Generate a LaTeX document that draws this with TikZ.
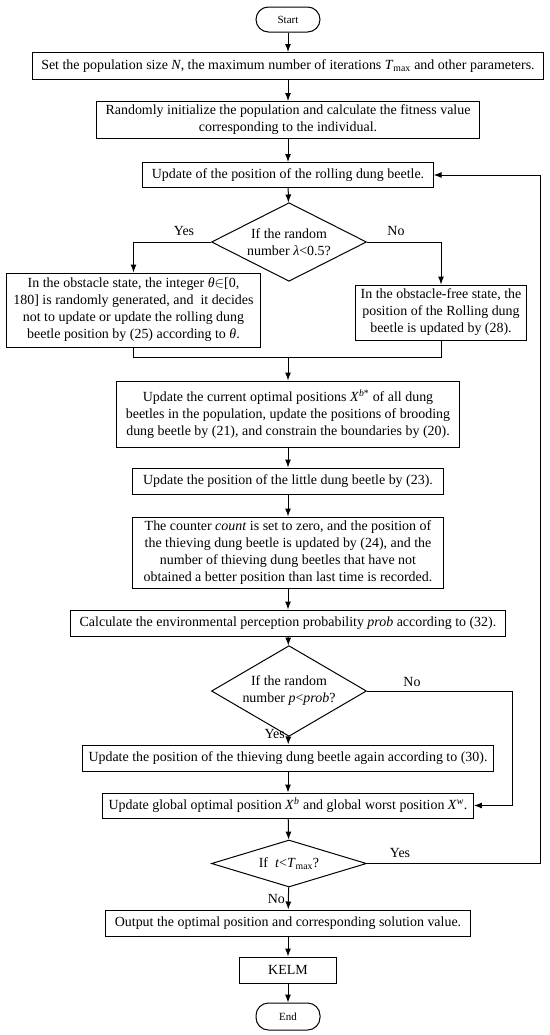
\documentclass[tikz,border=0pt]{standalone}
\usepackage{fontspec}
\setmainfont{Liberation Serif}
\usetikzlibrary{shapes.geometric,arrows.meta}
\begin{document}
\begin{tikzpicture}[x=1bp,y=-1bp,
  box/.style={draw,line width=1bp,align=center,font=\fontsize{14}{17}\selectfont,inner xsep=9bp,inner ysep=2bp},
  dia/.style={draw,diamond,line width=1bp,align=center,font=\fontsize{14}{17}\selectfont,inner sep=-8bp,minimum width=155bp},
  term/.style={draw,line width=1bp,rounded corners=12.5bp,minimum width=64bp,minimum height=25bp,font=\fontsize{11}{13}\selectfont,inner sep=0pt},
  lbl/.style={font=\fontsize{14}{17}\selectfont,inner sep=0pt},
  arr/.style={line width=1bp,-{Latex[length=8bp,width=6bp]}},
  ln/.style={line width=1bp}]
\useasboundingbox (0,0) rectangle (550,1035);
\node[term] (start) at (288,19.5) {Start};
\node[box,minimum height=27bp] (set) at (288,66) {Set the population size \textit{N}, the maximum number of iterations \textit{T}\textsubscript{max} and other parameters.};
\node[box,minimum height=37bp] (rand) at (288,120) {Randomly initialize the population and calculate the fitness value\\corresponding to the individual.};
\node[box,minimum height=25bp] (roll) at (288,175) {Update of the position of the rolling dung beetle.};
\node[dia,minimum height=65bp] (d1) at (289,242) {If the random\\number \textit{λ}<0.5?};
\node[box,minimum height=74bp,inner xsep=7bp] (left) at (133.5,310) {In the obstacle state, the integer \textit{θ}$\in$[0,\\180] is randomly generated, and~ it decides\\not to update or update the rolling dung\\beetle position by (25) according to \textit{θ}.};
\node[box,minimum height=55bp,inner xsep=5bp] (right) at (441,312.5) {In the obstacle-free state, the\\position of the Rolling dung\\beetle is updated by (28).};
\node[box,minimum height=66bp] (upd) at (288,414) {Update the current optimal positions \textit{X}\textsuperscript{\textit{b}*} of all dung\\beetles in the population, update the positions of brooding\\dung beetle by (21), and constrain the boundaries by (20).};
\node[box,minimum height=26bp,inner xsep=11bp] (little) at (288,481) {Update the position of the little dung beetle by (23).};
\node[box,minimum height=71bp,inner xsep=11bp] (counter) at (288,552.5) {The counter \textit{count} is set to zero, and the position of\\the thieving dung beetle is updated by (24), and the\\number of thieving dung beetles that have not\\obtained a better position than last time is recorded.};
\node[box,minimum height=26bp] (calc) at (288,623) {Calculate the environmental perception probability \textit{prob} according to (32).};
\node[dia,minimum height=65bp] (d2) at (289,691) {If the random\\number \textit{p}<\textit{prob}?};
\node[box,minimum height=26bp,inner xsep=6bp] (thiev) at (288,758) {Update the position of the thieving dung beetle again according to (30).};
\node[box,minimum height=25bp,inner xsep=6bp] (glob) at (288,805.5) {Update global optimal position \textit{X}\textsuperscript{\textit{b}} and global worst position \textit{X}\textsuperscript{\textit{w}}.};
\node[dia,minimum height=47bp] (d3) at (289,863.5) {If~ \textit{t}<\textit{T}\textsubscript{max}?};
\node[box,minimum height=26bp] (out) at (288,923) {Output the optimal position and corresponding solution value.};
\node[box,minimum height=26bp,minimum width=97bp] (kelm) at (288,970) {KELM};
\node[term,minimum height=27bp] (end) at (288,1016.5) {End};
\coordinate (mC) at (288,357);
\coordinate (loopx) at (540,0);
\coordinate (nox) at (512,0);
\draw[arr] (start) -- (set);
\draw[arr] (set) -- (rand);
\draw[arr] (rand) -- (roll);
\draw[arr] (roll) -- (d1);
\draw[arr] (d1.west) -| (left.north);
\draw[arr] (d1.east) -| (right.north);
\draw[ln] (left.south) -- (left.south |- mC) -- (right.south |- mC) -- (right.south);
\draw[arr] (mC) -- (upd);
\draw[arr] (upd) -- (little);
\draw[arr] (little) -- (counter);
\draw[arr] (counter) -- (calc);
\draw[arr] (calc) -- (d2);
\draw[arr] (d2) -- (thiev);
\draw[arr] (thiev) -- (glob);
\draw[arr] (d2.east) -- (d2.east -| nox) |- (glob.east);
\draw[arr] (glob) -- (d3);
\draw[arr] (d3) -- (out);
\draw[arr] (d3.east) -- (d3.east -| loopx) |- (roll.east);
\draw[arr] (out) -- (kelm);
\draw[arr] (kelm) -- (end);
\node[lbl] (y1) at (184,231) {Yes};
\node[lbl] (n1) at (396,231) {No};
\node[lbl] (n2) at (412,682) {No};
\node[lbl,anchor=east] (y2) at (285,734) {Yes};
\node[lbl] (y3) at (400,853) {Yes};
\node[lbl,anchor=east] (n3) at (285,899) {No};
\end{tikzpicture}
\end{document}
